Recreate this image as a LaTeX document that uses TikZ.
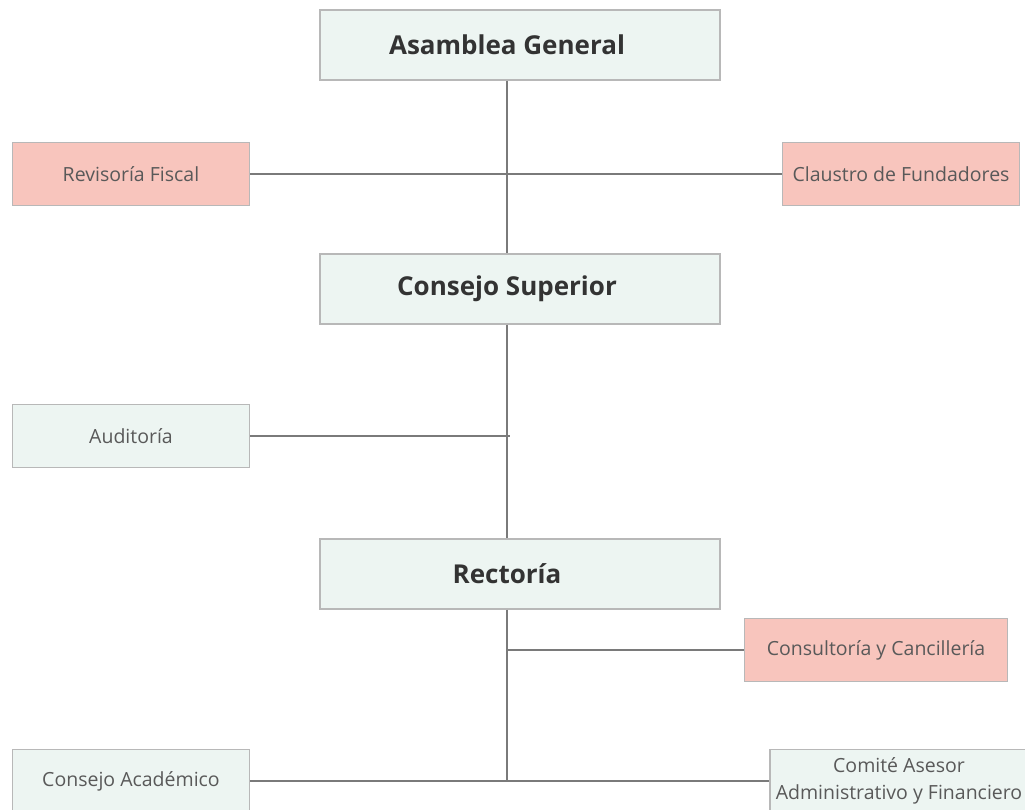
\documentclass[tikz,border=0pt]{standalone}
\usepackage{fontspec}
\setmainfont{Open Sans}
\usepackage{tikz}
\usepackage{xcolor}
\definecolor{boxmint}{HTML}{EDF5F2}
\definecolor{boxpink}{HTML}{F8C5BD}
\definecolor{boxline}{HTML}{B8B8B8}
\definecolor{linkgray}{HTML}{7A7A7A}
\tikzset{organo/.style={draw=boxline,line width=1.2pt,fill=boxmint,text=black!80,
        minimum width=400pt,minimum height=70pt,font=\fontsize{26}{30}\selectfont\bfseries,
        execute at end node={\hspace*{26pt}}},
    unidad/.style={draw=boxline,line width=1.2pt,fill=boxmint,text=black!65,
        minimum width=237pt,minimum height=63pt,inner sep=1pt,align=center,font=\fontsize{19.5}{27}\selectfont},
    asesor/.style={unidad,fill=boxpink},
    link/.style={draw=linkgray,line width=1.2pt}}

\begin{document}
\begin{tikzpicture}[x=1pt,y=-1pt]
	\clip (0,0) rectangle (1025,810);
	\useasboundingbox (0,0) rectangle (1025,810);
	\coordinate (spine) at (507,0);
	% main line
	\node[organo] (asamblea) at (520,45) {Asamblea General};
	\node[organo] (consejo) at (520,289) {Consejo Superior};
	\node[organo] (rectoria) at (520,574) {Rectoría};
	% side units
	\node[asesor] (revisoria) at (131,174) {Revisoría Fiscal};
	\node[asesor] (claustro) at (901,174) {Claustro de Fundadores};
	\node[unidad] (auditoria) at (131,436) {Auditoría};
	\node[asesor,minimum width=263pt] (consultoria) at (876,650) {Consultoría y Cancillería};
	\node[unidad] (academico) at (131,781) {Consejo Académico};
	\node[unidad,minimum width=258pt] (comite) at (899,781) {Comité Asesor\\Administrativo y Financiero};
	\coordinate (bottom) at (spine |- academico.east);
	% links
	\draw[link] (asamblea.south -| spine) -- (consejo.north -| spine);
	\draw[link] (revisoria.east) -- (claustro.west);
	\draw[link] (consejo.south -| spine) -- (rectoria.north -| spine);
	\draw[link] (auditoria.east) -- ([xshift=3pt]spine |- auditoria.east);
	\draw[link] (rectoria.south -| spine) -- (bottom);
	\draw[link] (spine |- consultoria.west) -- (consultoria.west);
	\draw[link] (academico.east) -- (comite.west);
\end{tikzpicture}
\end{document}
